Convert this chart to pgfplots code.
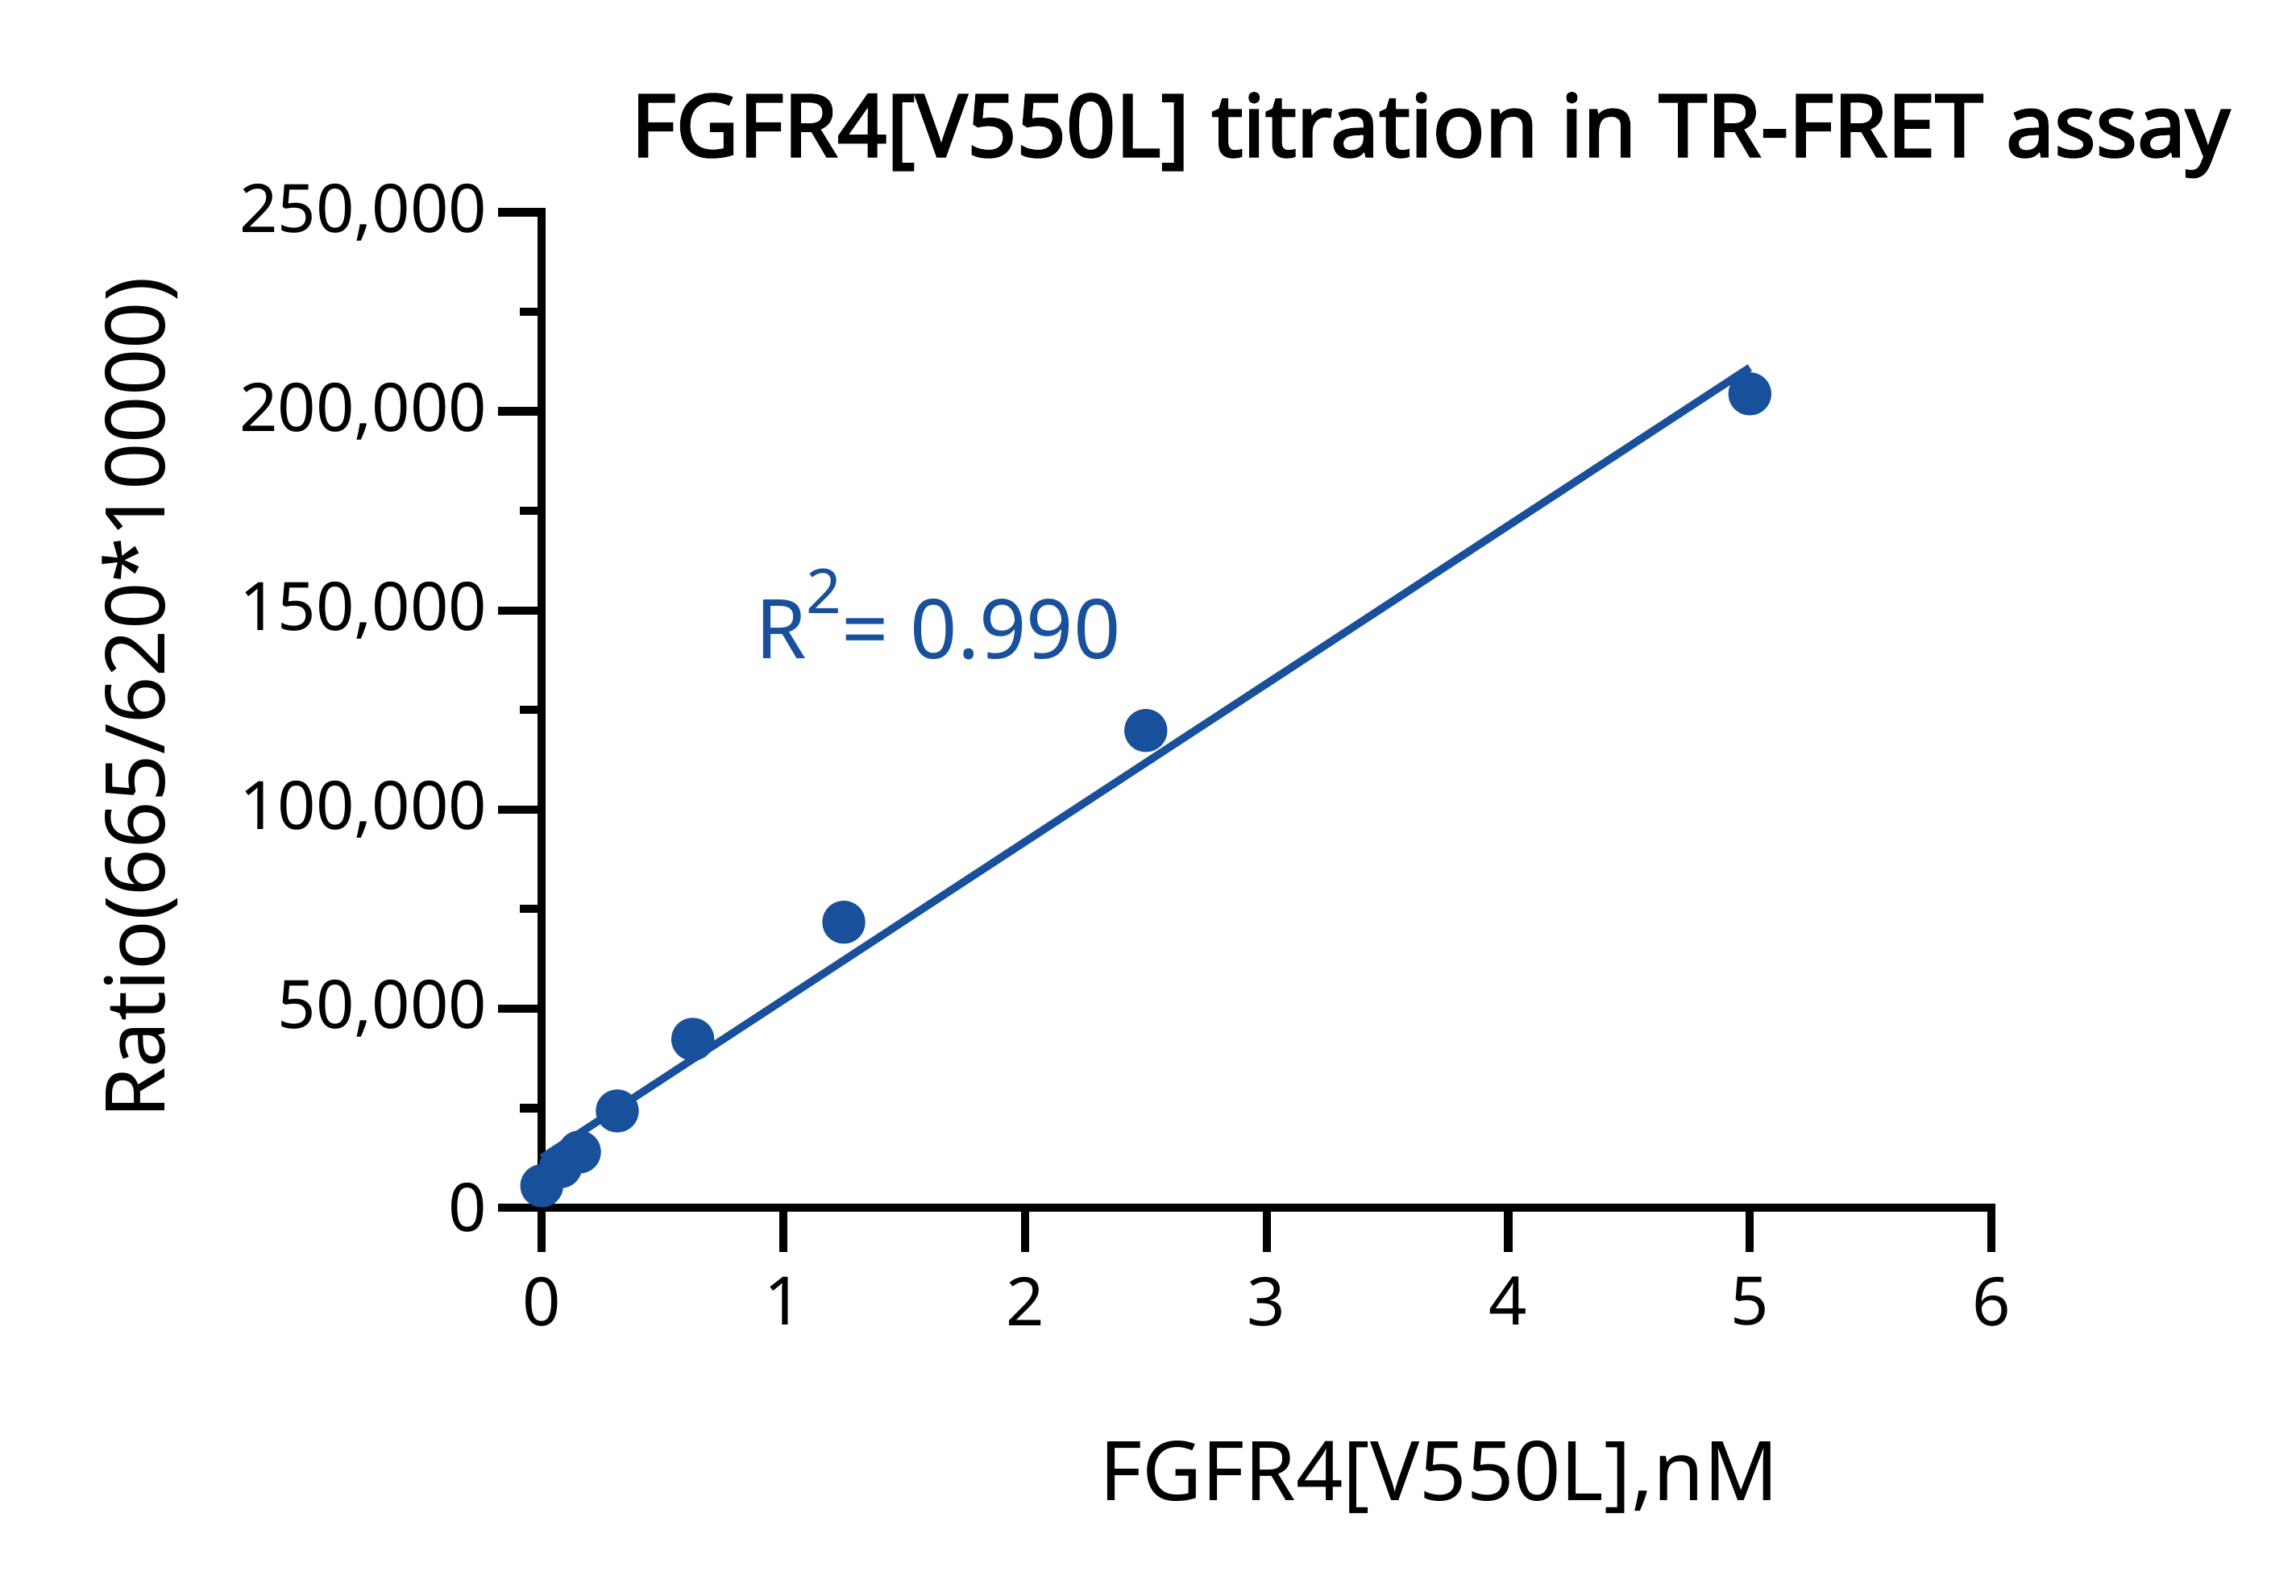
\documentclass[border=0pt]{standalone}
\usepackage{fontspec}
\setmainfont{Noto Sans}[AutoFakeBold=2.5]
\usepackage{pgfplots}
\pgfplotsset{compat=1.18}
\definecolor{pblue}{RGB}{24,80,156}
\begin{document}
\begin{tikzpicture}
\begin{axis}[
  scale only axis, width=99mm, height=68mm,
  xmin=0, xmax=6, ymin=0, ymax=250000,
  axis lines*=left,
  axis line style={line width=1.6pt, line cap=rect},
  xtick={0,1,2,3,4,5,6},
  ytick={0,50000,100000,150000,200000,250000},
  minor y tick num=1,
  tick align=outside,
  major tick length=3mm, minor tick length=1.5mm,
  every tick/.style={line width=1.6pt, black},
  scaled y ticks=false,
  /pgf/number format/.cd, fixed, 1000 sep={,}, assume math mode=true, /pgfplots/.cd,
  tick label style={font=\fontsize{13}{15}\selectfont},
  yticklabel style={xshift=0.5mm},
  xticklabel style={yshift=-0.5mm},
  clip=false,
  title={\fontsize{16.8}{19}\selectfont\bfseries FGFR4[V550L] titration in TR-FRET assay},
  title style={at={(axis description cs:0.613,1.025)}, anchor=base},
  xlabel={FGFR4[V550L],nM},
  xlabel style={at={(axis description cs:0.619,-0.294)}, anchor=base, font=\fontsize{16}{19}\selectfont},
  ylabel={Ratio(665/620*10000)},
  ylabel style={at={(axis description cs:-0.26,0.512)}, anchor=base, rotate=0, font=\fontsize{16}{19}\selectfont},
]
\addplot[pblue, line width=1.5pt] coordinates {(0,12500) (5,211000)};
\addplot[only marks, mark=*, mark size=1.4mm, pblue, mark options={fill=pblue, draw=pblue}] coordinates {
(0,5500) (0.078,10300) (0.156,14000) (0.3125,24300) (0.625,42300) (1.25,71700) (2.5,119850) (5,204400)};
\node[anchor=base west, text=pblue, font=\fontsize{16}{19}\selectfont, inner sep=0pt] at (axis cs:0.88,137900) {R\raisebox{0.55em}{\fontsize{12}{14}\selectfont 2}= 0.990};
\end{axis}
\pgfresetboundingbox
\useasboundingbox (-37mm,-26.5mm) rectangle (119.8mm,82.5mm);
\end{tikzpicture}
\end{document}
